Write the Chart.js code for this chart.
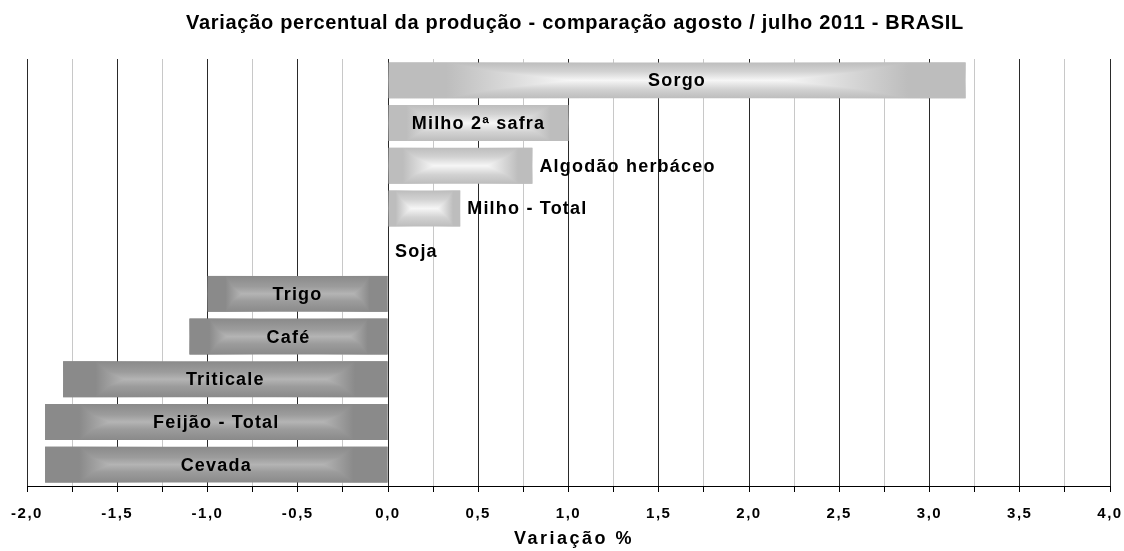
<!DOCTYPE html>
<html>
<head>
<meta charset="utf-8">
<script src="https://cdn.jsdelivr.net/npm/chart.js@4.4.1/dist/chart.umd.min.js"></script>
<style>
  html, body { margin: 0; background: #fff; }
  #wrap { width: 1124px; height: 551px; }
</style>
</head>
<body>
<div id="wrap"><canvas id="chart"></canvas></div>
<script>
  // dados
  const culturas = ['Sorgo', 'Milho 2ª safra', 'Algodão herbáceo', 'Milho - Total', 'Soja',
                    'Trigo', 'Café', 'Triticale', 'Feijão - Total', 'Cevada'];
  const variacao = [3.2, 1.0, 0.8, 0.4, 0.0, -1.0, -1.1, -1.8, -1.9, -1.9];
  const eixoMin = -2;
  const eixoMax = 4;
  const titulo = 'Variação percentual da produção - comparação agosto / julho 2011 - BRASIL';
  const tituloEixo = 'Variação %';

  const FONT = "'Liberation Sans', Arial, sans-serif";
  const BAR_PCT = 0.84;

  function vertGradient(ctx, top, bottom, pos) {
    const g = ctx.createLinearGradient(0, top, 0, bottom);
    if (pos) {
      g.addColorStop(0, '#bdbdbd');
      g.addColorStop(0.25, '#d2d2d2');
      g.addColorStop(0.5, '#f6f6f6');
      g.addColorStop(0.75, '#d2d2d2');
      g.addColorStop(1, '#bdbdbd');
    } else {
      g.addColorStop(0, '#8a8a8a');
      g.addColorStop(0.3, '#9c9c9c');
      g.addColorStop(0.5, '#b4b4b4');
      g.addColorStop(0.7, '#9c9c9c');
      g.addColorStop(1, '#8a8a8a');
    }
    return g;
  }

  // gradiente de cada barra, calculado depois do layout
  const barFill = {
    id: 'barFill',
    beforeDatasetsDraw(chart) {
      const ctx = chart.ctx;
      chart.getDatasetMeta(0).data.forEach((el, i) => {
        const p = el.getProps(['y', 'height'], true);
        if (!isFinite(p.y) || !isFinite(p.height)) return;
        el.options.backgroundColor = vertGradient(ctx, p.y - p.height / 2, p.y + p.height / 2, variacao[i] >= 0);
      });
    }
  };

  // sombreamento horizontal sobre as barras (efeito de caixa)
  const boxShade = {
    id: 'boxShade',
    afterDatasetsDraw(chart) {
      const ctx = chart.ctx;
      const meta = chart.getDatasetMeta(0);
      ctx.save();
      ctx.globalCompositeOperation = 'darken';
      meta.data.forEach((el, i) => {
        const p = el.getProps(['x', 'y', 'base', 'height'], true);
        const l = Math.min(p.x, p.base), r = Math.max(p.x, p.base);
        if (r - l < 1) return;
        const pos = variacao[i] >= 0;
        const edge = pos ? '#bdbdbd' : '#8a8a8a';
        const g = ctx.createLinearGradient(l, 0, r, 0);
        g.addColorStop(0, edge);
        g.addColorStop(0.1, edge);
        g.addColorStop(0.35, '#ffffff');
        g.addColorStop(0.65, '#ffffff');
        g.addColorStop(0.9, edge);
        g.addColorStop(1, edge);
        ctx.fillStyle = g;
        ctx.fillRect(l, p.y - p.height / 2, r - l, p.height);
      });
      ctx.restore();
    }
  };

  const barLabels = {
    id: 'barLabels',
    afterDatasetsDraw(chart) {
      const ctx = chart.ctx;
      const meta = chart.getDatasetMeta(0);
      ctx.save();
      ctx.font = 'bold 18px ' + FONT;
      ctx.letterSpacing = '1.2px';
      ctx.fillStyle = '#000';
      ctx.textBaseline = 'middle';
      meta.data.forEach((el, i) => {
        const p = el.getProps(['x', 'y', 'base'], true);
        const l = Math.min(p.x, p.base), r = Math.max(p.x, p.base);
        const txt = culturas[i];
        const w = ctx.measureText(txt).width;
        if (r - l > w + 20) {
          ctx.textAlign = 'center';
          ctx.fillText(txt, (l + r) / 2, p.y + 1);
        } else {
          ctx.textAlign = 'left';
          ctx.fillText(txt, r + 7, p.y + 1);
        }
      });
      ctx.restore();
    }
  };

  const textos = {
    id: 'textos',
    beforeDraw(chart) {
      chart.ctx.letterSpacing = '1.5px';
    },
    afterDraw(chart) {
      const ctx = chart.ctx;
      ctx.save();
      ctx.letterSpacing = '0.7px';
      ctx.fillStyle = '#000';
      ctx.textAlign = 'center';
      ctx.textBaseline = 'middle';
      ctx.font = 'bold 20px ' + FONT;
      ctx.fillText(titulo, 575, 23);
      ctx.letterSpacing = '2.5px';
      ctx.font = 'bold 18px ' + FONT;
      ctx.fillText(tituloEixo, 574, 539);
      ctx.restore();
      ctx.letterSpacing = '0px';
    }
  };

  new Chart(document.getElementById('chart'), {
    type: 'bar',
    data: {
      labels: culturas,
      datasets: [{
        data: variacao,
        backgroundColor: ctx => (variacao[ctx.dataIndex] >= 0 ? '#d0d0d0' : '#9c9c9c'),
        borderWidth: 0,
        barPercentage: BAR_PCT,
        categoryPercentage: 1
      }]
    },
    options: {
      indexAxis: 'y',
      responsive: true,
      maintainAspectRatio: false,
      animation: false,
      layout: { padding: { top: 59, left: 27, right: 14, bottom: 15 } },
      plugins: {
        legend: { display: false },
        title: { display: false },
        tooltip: { enabled: false }
      },
      scales: {
        x: {
          min: eixoMin,
          max: eixoMax,
          afterFit: scale => { scale.paddingLeft = 0; scale.paddingRight = 0; },
          border: { display: true, color: '#000', width: 1 },
          grid: {
            color: c => (Math.round(c.tick.value * 4) % 2 === 0 ? '#2a2a2a' : '#c8c8c8'),
            tickColor: '#000',
            tickLength: 6
          },
          ticks: {
            stepSize: 0.25,
            autoSkip: false,
            maxRotation: 0,
            color: '#000',
            font: { family: FONT, size: 15, weight: 'bold' },
            padding: 13,
            callback: v => (Math.round(v * 4) % 2 === 0 ? v.toFixed(1).replace('.', ',') : '')
          }
        },
        y: {
          display: false
        }
      }
    },
    plugins: [barFill, boxShade, barLabels, textos]
  });
</script>
</body>
</html>
